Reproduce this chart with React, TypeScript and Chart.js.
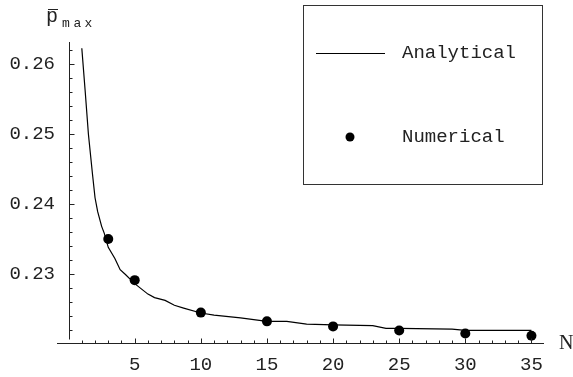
import React, { useEffect, useRef } from "react";
import { Chart, registerables } from "chart.js";

Chart.register(...registerables);

// Analytical curve
const analyticN = [1, 1.25, 1.5, 1.8, 2, 2.2, 2.5, 2.7, 3, 3.5, 3.9, 4.3, 5, 6, 6.5, 7.3, 8, 8.7, 10, 11, 13, 15, 16.5, 18, 20, 23, 24, 25, 29, 30, 35];
const analyticP = [0.2623, 0.2563, 0.25, 0.2444, 0.2409, 0.2389, 0.2368, 0.2358, 0.2338, 0.2322, 0.2306, 0.2299, 0.2286, 0.2271, 0.2266, 0.2262, 0.2255, 0.2251, 0.2244, 0.2241, 0.2237, 0.2232, 0.2232, 0.2228, 0.2227, 0.2226, 0.2222, 0.2222, 0.2221, 0.2219, 0.2219];

// Numerical points
const numericN = [3, 5, 10, 15, 20, 25, 30, 35];
const numericP = [0.235, 0.2291, 0.22445, 0.2232, 0.22248, 0.2219, 0.22147, 0.22115];

// Axis ticks
const xTicks = [5, 10, 15, 20, 25, 30, 35];
const yTicks = [0.23, 0.24, 0.25, 0.26];

const seriesLabels = ["Analytical", "Numerical"];

const MONO = "'Courier New', 'Liberation Mono', monospace";
const INK = "#222";

const mmaPlugin = {
  id: "mmaDecor",
  afterDraw(chart: any) {
    const { ctx, chartArea, scales } = chart;
    const x = scales.x;
    const y = scales.y;
    ctx.save();
    ctx.strokeStyle = INK;
    ctx.lineWidth = 1;
    const x0 = Math.round(x.getPixelForValue(0)) + 0.5;
    const yb = Math.round(chartArea.bottom) + 0.5;
    // y axis
    ctx.beginPath();
    ctx.moveTo(x0, chartArea.top);
    ctx.lineTo(x0, yb - 4);
    ctx.stroke();
    // x axis
    ctx.beginPath();
    ctx.moveTo(chartArea.left, yb);
    ctx.lineTo(chartArea.right, yb);
    ctx.stroke();
    // y ticks (minor every 0.002)
    for (let k = 111; k <= 131; k++) {
      const v = k * 0.002;
      const py = Math.round(y.getPixelForValue(v)) + 0.5;
      const major = k % 5 === 0;
      ctx.beginPath();
      ctx.moveTo(x0, py);
      ctx.lineTo(x0 + (major ? 5 : 3), py);
      ctx.stroke();
    }
    // x ticks (minor every 1)
    for (let n = 1; n <= 35; n++) {
      const px = Math.round(x.getPixelForValue(n)) + 0.5;
      const major = n % 5 === 0;
      ctx.beginPath();
      ctx.moveTo(px, yb);
      ctx.lineTo(px, yb - (major ? 5 : 3));
      ctx.stroke();
    }

    // Legend box
    ctx.strokeStyle = "#333";
    ctx.strokeRect(303.5, 5.5, 239, 179);
    ctx.strokeStyle = "#000";
    ctx.beginPath();
    ctx.moveTo(316, 53.5);
    ctx.lineTo(385, 53.5);
    ctx.stroke();
    ctx.fillStyle = "#000";
    ctx.beginPath();
    ctx.arc(350, 137, 4.5, 0, Math.PI * 2);
    ctx.fill();
    ctx.fillStyle = INK;
    ctx.font = `19px ${MONO}`;
    ctx.textAlign = "left";
    ctx.textBaseline = "middle";
    ctx.fillText(seriesLabels[0], 402, 53);
    ctx.fillText(seriesLabels[1], 402, 137);

    // Y title p̄_max
    ctx.textBaseline = "alphabetic";
    ctx.font = `20px ${MONO}`;
    ctx.fillText("p", 46, 22);
    ctx.beginPath();
    ctx.strokeStyle = INK;
    ctx.moveTo(48, 9.5);
    ctx.lineTo(58, 9.5);
    ctx.stroke();
    ctx.font = `13px ${MONO}`;
    ctx.textAlign = "center";
    const sub = ["m", "a", "x"];
    const subX = [66, 77.5, 88.5];
    sub.forEach((c, i) => ctx.fillText(c, subX[i], 27));

    // N label
    ctx.font = "20px 'Liberation Serif', 'Times New Roman', serif";
    ctx.textAlign = "left";
    ctx.textBaseline = "middle";
    ctx.fillText("N", 559, 344);
    ctx.restore();
  },
};

export default function App() {
  const ref = useRef<HTMLCanvasElement | null>(null);
  useEffect(() => {
    if (!ref.current) return;
    const chart = new Chart(ref.current, {
      type: "line",
      data: {
        datasets: [
          {
            label: seriesLabels[0],
            data: analyticN.map((n, i) => ({ x: n, y: analyticP[i] })),
            borderColor: "#000",
            borderWidth: 1.2,
            pointRadius: 0,
            tension: 0,
            fill: false,
          },
          {
            label: seriesLabels[1],
            data: numericN.map((n, i) => ({ x: n, y: numericP[i] })),
            showLine: false,
            pointRadius: 5,
            pointBackgroundColor: "#000",
            pointBorderWidth: 0,
            borderColor: "#000",
            backgroundColor: "#000",
          },
        ],
      },
      options: {
        responsive: false,
        animation: false,
        layout: { padding: { top: 42, right: 29, left: 0, bottom: 0 } },
        plugins: { legend: { display: false }, tooltip: { enabled: false } },
        scales: {
          x: {
            type: "linear",
            min: -0.876,
            max: 35.95,
            grid: { display: false, drawTicks: false },
            border: { display: false },
            afterBuildTicks: (s: any) => {
              s.ticks = xTicks.map((v) => ({ value: v }));
            },
            afterFit: (s: any) => {
              s.height = 34;
            },
            ticks: {
              padding: 11,
              color: INK,
              font: { family: MONO, size: 19 },
              maxRotation: 0,
              autoSkip: false,
              callback: (v: any) => String(v),
            },
          },
          y: {
            type: "linear",
            min: 0.2201,
            max: 0.2632,
            grid: { display: false, drawTicks: false },
            border: { display: false },
            afterBuildTicks: (s: any) => {
              s.ticks = yTicks.map((v) => ({ value: v }));
            },
            afterFit: (s: any) => {
              s.width = 57;
            },
            ticks: {
              padding: 2,
              color: INK,
              font: { family: MONO, size: 19 },
              callback: (v: any) => Number(v).toFixed(2),
            },
          },
        },
      },
      plugins: [mmaPlugin],
    });
    return () => chart.destroy();
  }, []);
  return (
    <div style={{ position: "absolute", left: 0, top: 0, width: 573, height: 377, background: "#fff" }}>
      <canvas ref={ref} width={573} height={377} style={{ display: "block" }} />
    </div>
  );
}
